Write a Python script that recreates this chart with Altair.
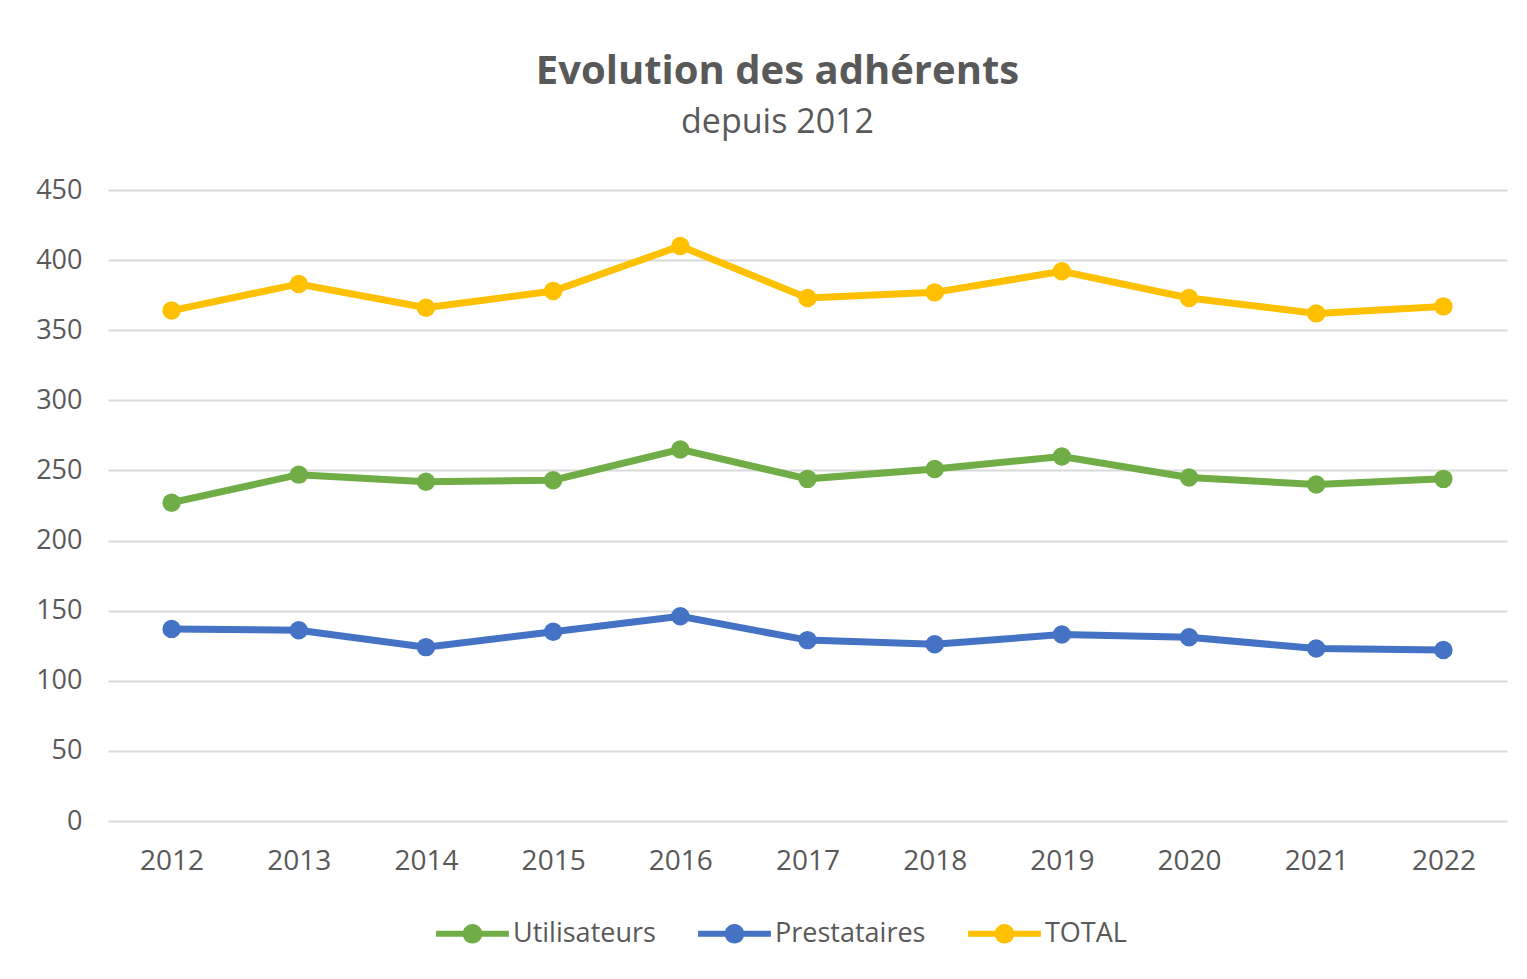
import altair as alt
import pandas as pd

years = ["2012", "2013", "2014", "2015", "2016", "2017", "2018", "2019", "2020", "2021", "2022"]
utilisateurs = [227, 247, 242, 243, 265, 244, 251, 260, 245, 240, 244]
prestataires = [137, 136, 124, 135, 146, 129, 126, 133, 131, 123, 122]
total = [364, 383, 366, 378, 410, 373, 377, 392, 373, 362, 367]

series_names = ["Utilisateurs", "Prestataires", "TOTAL"]
series_colors = ["#70AD47", "#4472C4", "#FFC000"]

rows = []
for name, vals in zip(series_names, [utilisateurs, prestataires, total]):
    for y, v in zip(years, vals):
        rows.append({"Année": y, "Série": name, "Valeur": v})
df = pd.DataFrame(rows)

FONT = "Open Sans"
GRAY = "#595959"

x_enc = alt.X("Année:O", sort=years, title=None,
              scale=alt.Scale(type="point", padding=0.5),
              axis=alt.Axis(labelAngle=0, labelFontSize=28, labelColor=GRAY, labelFont=FONT,
                            ticks=False, domain=False, labelPadding=26, grid=False))
y_enc = alt.Y("Valeur:Q", title=None,
              scale=alt.Scale(domain=[0, 450]),
              axis=alt.Axis(values=list(range(0, 451, 50)), labelFontSize=27, labelColor=GRAY,
                            labelFont=FONT, ticks=False, domain=False, labelPadding=26,
                            gridColor="#D9D9D9", gridWidth=2))
color_scale = alt.Scale(domain=series_names, range=series_colors)

legend_path = ("M-1,-0.08 L1,-0.08 L1,0.08 L-1,0.08 Z "
               "M0.27,0 A0.27,0.27 0 1,1 -0.27,0 A0.27,0.27 0 1,1 0.27,0 Z")

legend = alt.Legend(title=None, orient="none", direction="horizontal",
                    legendX=328, legendY=707,
                    symbolType=legend_path, symbolSize=5300,
                    symbolStrokeWidth=0, symbolOpacity=1,
                    labelFontSize=27, labelColor=GRAY, labelFont=FONT,
                    labelOffset=4, columnPadding=42)

color_enc = alt.Color("Série:N", scale=color_scale, sort=series_names, legend=legend)

lines = alt.Chart(df).mark_line(strokeWidth=7).encode(
    x=x_enc, y=y_enc,
    color=color_enc,
    order="Année:O",
)

points = alt.Chart(df).mark_circle(size=340, opacity=1).encode(
    x=x_enc, y=y_enc,
    color=color_enc,
)

chart = alt.layer(lines, points).properties(
    width=1399,
    height=631,
    autosize=alt.AutoSizeParams(type="none"),
    padding={"left": 100, "top": 182, "right": 12, "bottom": 150},
    title=alt.TitleParams(
        text="Evolution des adhérents",
        subtitle="depuis 2012",
        anchor="middle",
        dx=-30,
        offset=36,
        font=FONT, fontSize=40, fontWeight="bold", color=GRAY,
        subtitleFont=FONT, subtitleFontSize=34, subtitleColor=GRAY, subtitlePadding=14,
    ),
).configure(
    background="white",
    view=alt.ViewConfig(stroke="transparent", strokeWidth=0),
)

chart.save("out.html", embed_options={"renderer": "svg", "actions": False})
